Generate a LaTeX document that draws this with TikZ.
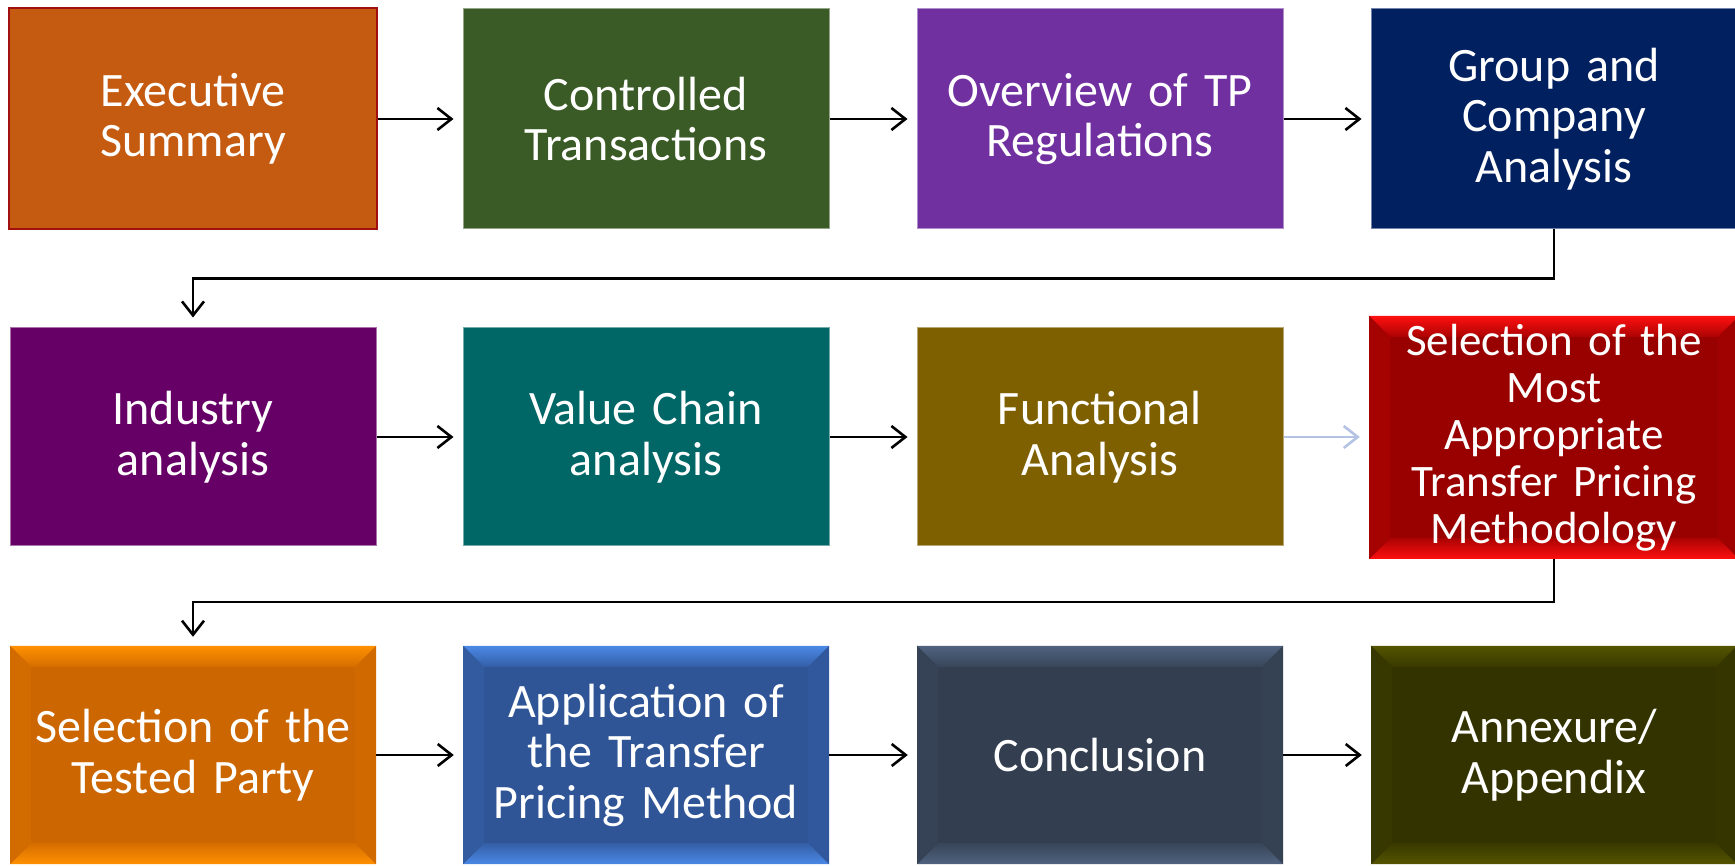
\documentclass[tikz,border=0pt]{standalone}
\usepackage{fontspec}
\setmainfont{Carlito}[WordSpace=0.8]
\usetikzlibrary{arrows.meta,calc}

% fills of the twelve steps
\definecolor{execfill}{HTML}{C55A11}
\definecolor{execline}{HTML}{A01010}
\definecolor{ctrlfill}{HTML}{3A5A26}
\definecolor{overfill}{HTML}{7030A0}
\definecolor{groupfill}{HTML}{002060}
\definecolor{indfill}{HTML}{660066}
\definecolor{valfill}{HTML}{006666}
\definecolor{funcfill}{HTML}{7F6000}
\definecolor{redbase}{HTML}{990000}
\definecolor{redlight}{HTML}{FF1010}
\definecolor{orgbase}{HTML}{CC6600}
\definecolor{orglight}{HTML}{FF9000}
\definecolor{bluebase}{HTML}{2F5597}
\definecolor{bluelight}{HTML}{4A88E6}
\definecolor{slatebase}{HTML}{333F50}
\definecolor{slatelight}{HTML}{4F627F}
\definecolor{olivebase}{HTML}{333300}
\definecolor{olivelight}{HTML}{545400}
\definecolor{softarrow}{HTML}{B4C3E4}

\tikzset{
  stepbox/.style={minimum width=366pt, minimum height=218pt, inner sep=0pt,
    text width=350pt, align=center, text=white,
    font=\fontsize{48}{50.5}\selectfont},
  flatbox/.style={stepbox, fill=#1, draw=#1!55!white, line width=1pt},
  bevelbox/.style n args={2}{stepbox, fill=#1,
    path picture={
      \coordinate (bNW) at (path picture bounding box.north west);
      \coordinate (bNE) at (path picture bounding box.north east);
      \coordinate (bSW) at (path picture bounding box.south west);
      \coordinate (bSE) at (path picture bounding box.south east);
      \shade[top color=#2, bottom color=#2!18!#1]
        (bNW) -- (bNE) -- ($(bNE)+(-21,-21)$) -- ($(bNW)+(21,-21)$) -- cycle;
      \shade[bottom color=#2, top color=#2!18!#1]
        (bSW) -- (bSE) -- ($(bSE)+(-21,21)$) -- ($(bSW)+(21,21)$) -- cycle;
      \fill[#2!12!#1]
        (bNW) -- ($(bNW)+(21,-21)$) -- ($(bSW)+(21,21)$) -- (bSW) -- cycle;
      \fill[#2!7!#1]
        (bNE) -- ($(bNE)+(-21,-21)$) -- ($(bSE)+(-21,21)$) -- (bSE) -- cycle;
    }},
  link/.style={-{Straight Barb[length=14pt,width=22pt]}, line width=2.6pt,
    draw=black, shorten >=9pt}
}

\begin{document}
\begin{tikzpicture}[x=1pt, y=1pt]
  \useasboundingbox (0,0) rectangle (1735,865);

  % first row
  \node[stepbox, fill=execfill, draw=execline, line width=2pt, minimum width=368pt, minimum height=221pt]
    (exec) at (193,746) {Executive\\Summary};
  \node[flatbox=ctrlfill, minimum height=220pt] (ctrl) at (646,746) {Controlled\\Transactions};
  \node[flatbox=overfill, minimum height=220pt] (over) at (1100,746) {Overview of TP\\Regulations};
  \node[flatbox=groupfill, minimum height=220pt] (group) at (1554,746) {Group and\\Company\\Analysis};

  % second row
  \node[flatbox=indfill] (ind) at (193,428) {Industry\\analysis};
  \node[flatbox=valfill] (val) at (646,428) {Value Chain\\analysis};
  \node[flatbox=funcfill] (func) at (1100,428) {Functional\\Analysis};
  \node[bevelbox={redbase}{redlight}, minimum width=370pt, minimum height=243pt,
    font=\fontsize{45}{47}\selectfont]
    (meth) at (1554,427.5) {Selection of the\\Most\\Appropriate\\Transfer Pricing\\Methodology};

  % third row
  \node[bevelbox={orgbase}{orglight}] (tested) at (193,110) {Selection of the\\Tested Party};
  \node[bevelbox={bluebase}{bluelight}] (apply) at (646,110) {Application of\\the Transfer\\Pricing Method};
  \node[bevelbox={slatebase}{slatelight}] (concl) at (1100,110) {Conclusion};
  \node[bevelbox={olivebase}{olivelight}] (annex) at (1554,110) {Annexure/\\Appendix};

  % connectors along each row
  \draw[link] (exec.east) -- (exec.east -| ctrl.west);
  \draw[link] (ctrl.east) -- (ctrl.east -| over.west);
  \draw[link] (over.east) -- (over.east -| group.west);
  \draw[link] (ind.east) -- (ind.east -| val.west);
  \draw[link] (val.east) -- (val.east -| func.west);
  \draw[link, draw=softarrow] (func.east) -- (func.east -| meth.west);
  \draw[link] (tested.east) -- (tested.east -| apply.west);
  \draw[link] (apply.east) -- (apply.east -| concl.west);
  \draw[link] (concl.east) -- (concl.east -| annex.west);

  % connectors between rows
  \draw[link, shorten >=10pt] (group.south) -- ++(0,-49) -| (ind.north);
  \draw[link] (meth.south) -- ++(0,-43) -| (tested.north);
\end{tikzpicture}
\end{document}
